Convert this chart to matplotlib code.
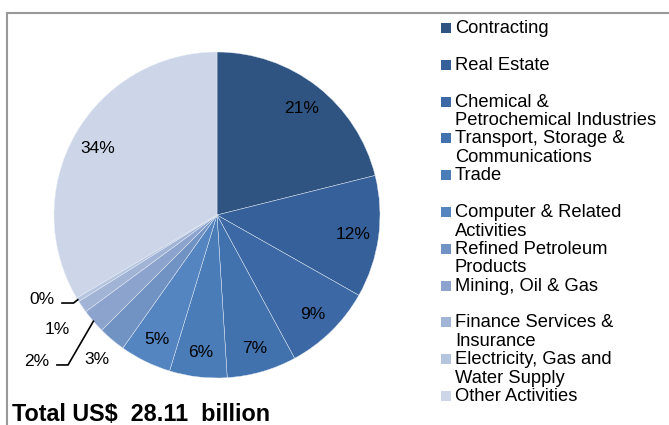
import numpy as np
import matplotlib.pyplot as plt
from matplotlib.patches import Rectangle

plt.rcParams['font.family'] = ['Liberation Sans', 'DejaVu Sans']

sectors = ['Contracting', 'Real Estate', 'Chemical &\nPetrochemical Industries',
           'Transport, Storage &\nCommunications', 'Trade', 'Computer & Related\nActivities',
           'Refined Petroleum\nProducts', 'Mining, Oil & Gas', 'Finance Services &\nInsurance',
           'Electricity, Gas and\nWater Supply', 'Other Activities']
shares = [21.1, 12.1, 8.9, 6.9, 5.7, 5.1, 2.7, 2.4, 1.2, 0.4, 33.5]
colors = ['#2f5481', '#36609a', '#3c69a5', '#4272ae', '#4a7cb8', '#5585c0',
          '#7193c4', '#8ca4cd', '#a2b4d6', '#b6c5df', '#cdd6e8']
total_label = 'Total US$  28.11  billion'

W, H = 669, 425
fig = plt.figure(figsize=(W / 100, H / 100), dpi=100)

# outer frame
fig.patches.append(Rectangle((7 / W, -0.1), 1.2, 1 - 13 / H + 0.1, transform=fig.transFigure,
                             fill=False, edgecolor='#999999', linewidth=1.5))

cx, cy, r = 217, 215, 163
ax = fig.add_axes([(cx - r) / W, 1 - (cy + r) / H, 2 * r / W, 2 * r / H])
wedges, _ = ax.pie(shares, colors=colors, startangle=90, counterclock=False,
                   wedgeprops=dict(edgecolor='#e8eef7', linewidth=0.3))
ax.set_xlim(-1, 1)
ax.set_ylim(-1, 1)
ax.set_aspect('equal')
ax.axis('off')

pct = [f'{round(s)}%' for s in shares]
mids = [np.deg2rad((w.theta1 + w.theta2) / 2) for w in wedges]
lbl = dict(ha='center', va='center_baseline', fontsize=12.5, color='black')

# labels inside the big wedges
for i in [0, 1, 2, 3, 4, 5, 10]:
    rr = 0.84
    ax.text(rr * np.cos(mids[i]), rr * np.sin(mids[i]), pct[i], **lbl)

# small wedges, labelled outside
ax.text(-0.736, -0.877, pct[6], **lbl)
ax.text(-0.98, -0.693, pct[8], **lbl)
ax.text(-1.104, -0.89, pct[7], clip_on=False, **lbl)
ax.text(-1.074, -0.509, pct[9], clip_on=False, **lbl)

e7 = (np.cos(mids[7]), np.sin(mids[7]))
ax.plot([-0.982, -0.914, e7[0]], [-0.92, -0.92, e7[1]], color='black', lw=1.2, clip_on=False)
e9 = (np.cos(mids[9]), np.sin(mids[9]))
ax.plot([-0.951, -0.88, e9[0]], [-0.54, -0.54, e9[1]], color='black', lw=1.2, clip_on=False)

# legend drawn by hand so multi-line labels hang from the first line
y0, step = 28, 36.8
for i, (name, c) in enumerate(zip(sectors, colors)):
    y = y0 + i * step
    fig.patches.append(Rectangle((441 / W, 1 - (y + 5) / H), 10 / W, 10 / H,
                                 transform=fig.transFigure, facecolor=c, edgecolor='none'))
    fig.text(455 / W, 1 - (y - 8) / H, name, ha='left', va='top', fontsize=13.2,
             linespacing=1.12)

fig.text(12 / W, 1 - 421 / H, total_label, ha='left', va='baseline', fontsize=16.8,
         fontweight='bold')

fig.savefig('out.png', dpi=100)
